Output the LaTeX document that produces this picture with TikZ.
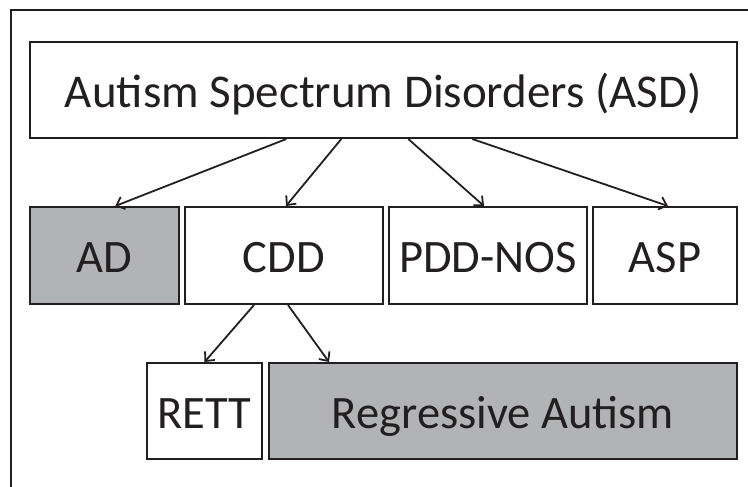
\documentclass[tikz,border=0pt]{standalone}
\usepackage{fontspec}
\setmainfont{Carlito}
\usetikzlibrary{arrows.meta}
\definecolor{boxgray}{RGB}{177,179,181}
\definecolor{inkgray}{RGB}{35,31,32}
\tikzset{
  box/.style={draw=inkgray, line width=2pt, inner sep=0pt, text=inkgray,
    text height=34pt, text depth=0pt, font=\fontsize{46.5}{56}\selectfont},
  shaded/.style={box, fill=boxgray},
  link/.style={draw=inkgray, line width=1.8pt, -{Straight Barb[length=7pt,width=13pt]}},
}
\begin{document}
\begin{tikzpicture}[x=1pt,y=-1pt]
\useasboundingbox (0,0) rectangle (748,487);
% Frame
\draw[inkgray, line width=2pt] (10.5,490) -- (10.5,10) -- (750,10);

% Top level
\node[box, font=\fontsize{47}{56}\selectfont, minimum width=707pt, minimum height=96pt] (asd) at (383.3,90) {Autism Spectrum Disorders (ASD)};

% Subtypes
\node[shaded, minimum width=149.5pt, minimum height=97pt] (ad) at (104.3,255.5) {AD};
\node[box, minimum width=198pt, minimum height=97pt] (cdd) at (284,255.5) {CDD};
\node[box, minimum width=198pt, minimum height=97pt] (pdd) at (488,255.5) {PDD-NOS};
\node[box, minimum width=144pt, minimum height=97pt] (asp) at (665,255.5) {ASP};

% Under CDD
\node[box, minimum width=115pt, minimum height=96pt] (rett) at (204.5,411) {RETT};
\node[shaded, minimum width=468pt, minimum height=96pt] (reg) at (503,411) {Regressive Autism};

% Arrows
\draw[link] ([xshift=-97pt]asd.south) -- ([xshift=11pt]ad.north);
\draw[link] ([xshift=-42pt]asd.south) -- ([xshift=2pt]cdd.north);
\draw[link] ([xshift=25pt]asd.south) -- ([xshift=-4pt]pdd.north);
\draw[link] ([xshift=89pt]asd.south) -- ([xshift=3pt]asp.north);
\draw[link] ([xshift=-30pt]cdd.south) -- (rett.north);
\draw[link] ([xshift=4pt]cdd.south) -- ([xshift=-174pt]reg.north);
\end{tikzpicture}
\end{document}
